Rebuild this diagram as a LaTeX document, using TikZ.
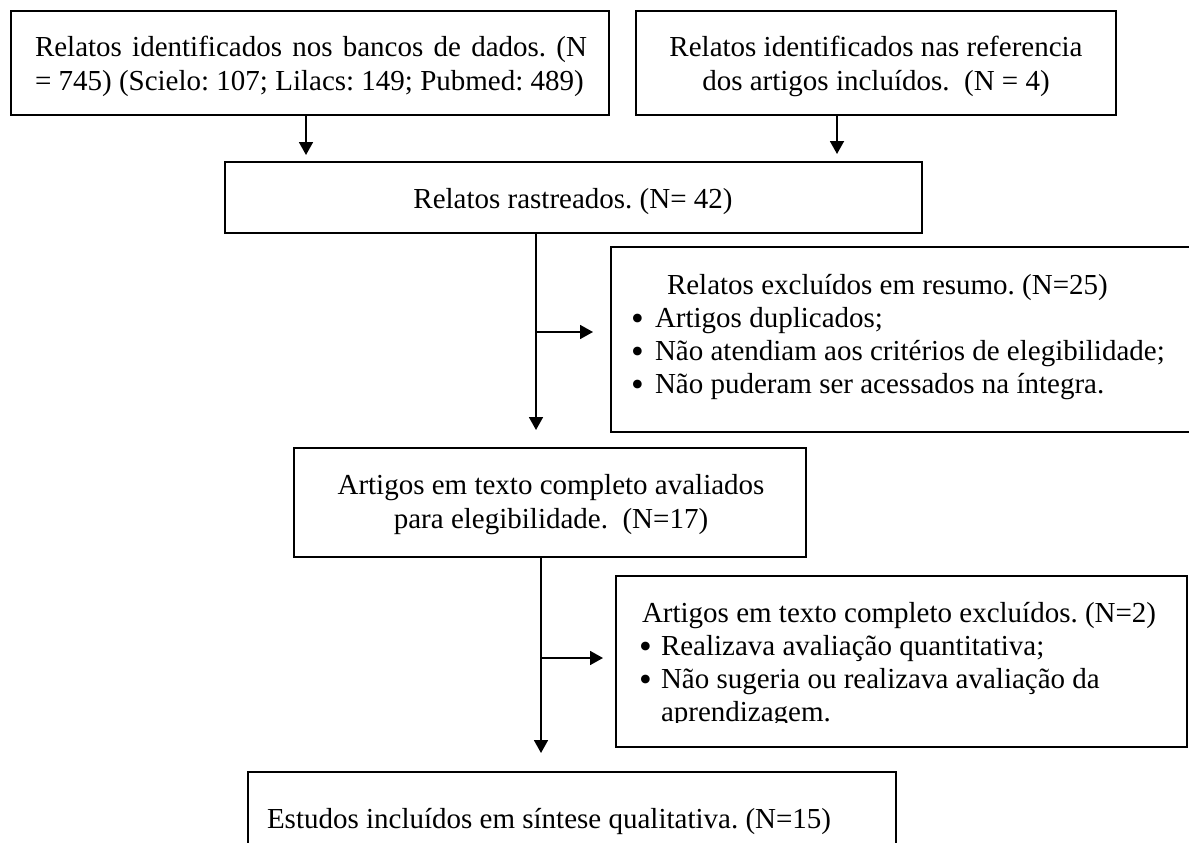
\documentclass[tikz,border=0pt]{standalone}
\usepackage{fontspec}
\setmainfont{Liberation Serif}
\usetikzlibrary{arrows.meta}
\newcommand{\bigbul}{\smash{\raisebox{-3pt}{\scalebox{1.25}{•}}}}
\begin{document}
\begin{tikzpicture}[x=1pt,y=-1pt,
  box/.style={draw, line width=1.8pt, anchor=north west, inner sep=0pt, outer sep=0pt},
  txt/.style={inner sep=0pt, outer sep=0pt, font=\fontsize{29}{33}\selectfont\frenchspacing},
  arr/.style={line width=1.8pt, -{Triangle[length=13pt,width=14pt]}}]
\useasboundingbox (0,0) rectangle (1189,843);
\clip (0,0) rectangle (1189,843);
% boxes
\node[box, minimum width=598pt, minimum height=104pt] (b1) at (11,11) {};
\node[box, minimum width=480pt, minimum height=104pt] (b2) at (636,11) {};
\node[box, minimum width=697pt, minimum height=71pt] (b3) at (225,162) {};
\node[box, minimum width=620pt, minimum height=185pt] (b4) at (611,247) {};
\node[box, minimum width=512pt, minimum height=109pt] (b5) at (294,448) {};
\node[box, minimum width=571pt, minimum height=171pt] (b6) at (616,576) {};
\node[box, minimum width=648pt, minimum height=100pt] (b7) at (248,772) {};
% texts
\node[txt, anchor=base west] (t1a) at (35,57) {\makebox[552pt][s]{Relatos identificados nos bancos de dados. (N}};
\node[txt, anchor=base west] (t1b) at (35,90) {= 745) (Scielo: 107; Lilacs: 149; Pubmed: 489)};
\node[txt, anchor=base] (t2a) at (876,57) {Relatos identificados nas referencia};
\node[txt, anchor=base] (t2b) at (876,90) {dos artigos incluídos.~~(N = 4)};
\node[txt, anchor=base] (t3) at (573,208) {Relatos rastreados. (N= 42)};
\node[txt, anchor=base west] (t4) at (667,294) {Relatos excluídos em resumo. (N=25)};
\node[txt, anchor=base west] (t4a) at (631,327) {\makebox[24pt][l]{\bigbul}Artigos duplicados;};
\node[txt, anchor=base west] (t4b) at (631,360) {\makebox[24pt][l]{\bigbul}Não atendiam aos critérios de elegibilidade;};
\node[txt, anchor=base west] (t4c) at (631,393) {\makebox[24pt][l]{\bigbul}Não puderam ser acessados na íntegra.};
\node[txt, anchor=base] (t5a) at (551,494) {Artigos em texto completo avaliados};
\node[txt, anchor=base] (t5b) at (551,528) {para elegibilidade.~~(N=17)};
\node[txt, anchor=base west] (t6) at (642,622) {Artigos em texto completo excluídos. (N=2)};
\node[txt, anchor=base west] (t6a) at (639,655) {\makebox[22pt][l]{\bigbul}Realizava avaliação quantitativa;};
\node[txt, anchor=base west] (t6b) at (639,688) {\makebox[22pt][l]{\bigbul}Não sugeria ou realizava avaliação da};
\begin{scope}
\clip (620,690) rectangle (1180,722.5);
\node[txt, anchor=base west] (t6c) at (661,721) {aprendizagem.};
\end{scope}
\node[txt, anchor=base west] (t7) at (267,828) {Estudos incluídos em síntese qualitativa. (N=15)};
% connectors
\coordinate (c1) at (306,0);
\coordinate (c2) at (837,0);
\coordinate (c3) at (536,0);
\coordinate (c4) at (541,0);
\coordinate (j1) at (536,332);
\coordinate (j2) at (541,658);
\draw[arr, shorten >=7pt] (c1 |- b1.south) -- (c1 |- b3.north);
\draw[arr, shorten >=8pt] (c2 |- b2.south) -- (c2 |- b3.north);
\draw[arr, shorten >=18pt] (c3 |- b3.south) -- (c3 |- b5.north);
\draw[arr, shorten >=18pt] (j1) -- (j1 -| b4.west);
\draw[arr, shorten >=19pt] (c4 |- b5.south) -- (c4 |- b7.north);
\draw[arr, shorten >=13pt] (j2) -- (j2 -| b6.west);
\end{tikzpicture}
\end{document}
